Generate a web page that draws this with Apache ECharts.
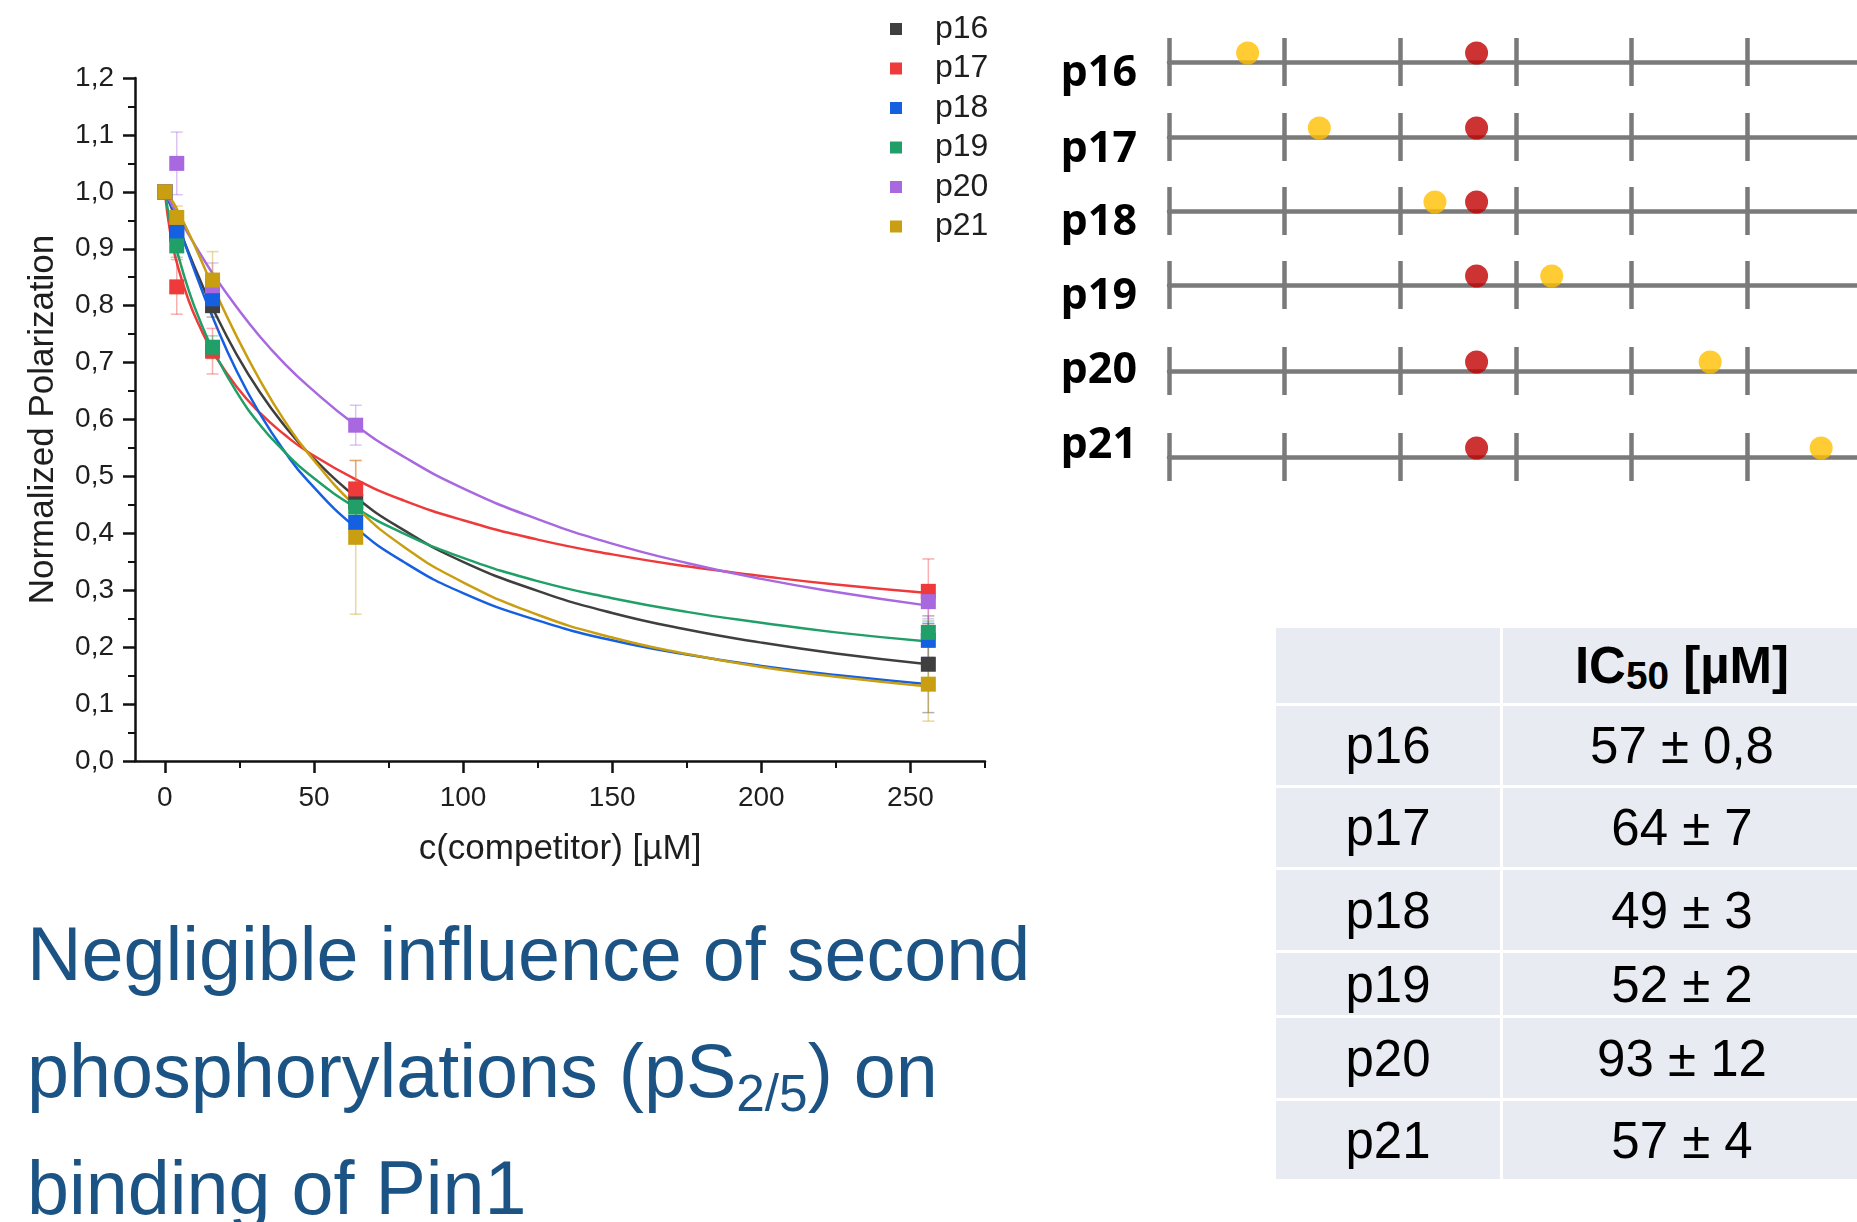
<!DOCTYPE html>
<html>
<head>
<meta charset="utf-8">
<script src="https://cdn.jsdelivr.net/npm/echarts@6/dist/echarts.min.js"></script>
<style>
  html, body { margin: 0; padding: 0; background: #fff; }
  #chart { position: absolute; left: 0; top: 0; width: 1857px; height: 1222px; }
  .caption {
    position: absolute; left: 27px; top: 896px;
    font-family: 'Liberation Sans', Arial, sans-serif;
    font-size: 75.5px; line-height: 117px; color: #1b5484; white-space: nowrap;
  }
  .caption .sub { font-size: 0.68em; vertical-align: -14px; line-height: 0; }
  .cell {
    position: absolute; background: #e8ebf1; color: #000;
    font-family: 'Liberation Sans', Arial, sans-serif; font-size: 51px;
    display: flex; align-items: center; justify-content: center; white-space: nowrap;
  }
  .cell.head { font-weight: bold; }
  .cell.head .sub { font-size: 0.76em; vertical-align: -6px; line-height: 0; }
</style>
</head>
<body>
<div id="chart"></div>
<div class="caption">Negligible influence of second<br>phosphorylations (pS<span class="sub">2/5</span>) on<br>binding of Pin1</div>
<div id="table"></div>
<script>
// competitor concentrations (µM) and normalized polarization per peptide
const concentrations = [0, 4, 16, 64, 256]
const peptides = ['p16', 'p17', 'p18', 'p19', 'p20', 'p21']

const p16Values = [1.0, 0.925, 0.80, 0.455, 0.17]
const p17Values = [1.0, 0.833, 0.72, 0.478, 0.298]
const p18Values = [1.0, 0.93, 0.812, 0.419, 0.212]
const p19Values = [1.0, 0.905, 0.727, 0.446, 0.226]
const p20Values = [1.0, 1.05, 0.835, 0.59, 0.28]
const p21Values = [1.0, 0.955, 0.845, 0.393, 0.135]

// error bars (±)
const p16Err = [0, 0.02, 0.02, 0.03, 0.085]
const p17Err = [0, 0.048, 0.04, 0.05, 0.057]
const p18Err = [0, 0.02, 0.02, 0.03, 0.03]
const p19Err = [0, 0.02, 0.02, 0.02, 0.02]
const p20Err = [0, 0.055, 0.04, 0.035, 0.03]
const p21Err = [0, 0.02, 0.05, 0.135, 0.065]

// fitted curves
const fitX = [0, 2, 4, 8, 12, 16, 24, 32, 40, 48, 64, 80, 100, 125, 150, 175, 200, 225, 256]
const p16Fit = [1.0, 0.975, 0.947, 0.893, 0.843, 0.796, 0.715, 0.647, 0.590, 0.542, 0.464, 0.406, 0.350, 0.299, 0.260, 0.231, 0.208, 0.189, 0.170]
const p17Fit = [1.0, 0.922, 0.876, 0.809, 0.760, 0.720, 0.658, 0.611, 0.574, 0.543, 0.495, 0.458, 0.423, 0.389, 0.363, 0.342, 0.325, 0.310, 0.295]
const p18Fit = [1.0, 0.977, 0.949, 0.890, 0.833, 0.780, 0.686, 0.609, 0.545, 0.492, 0.410, 0.350, 0.295, 0.247, 0.212, 0.187, 0.167, 0.151, 0.135]
const p19Fit = [1.0, 0.942, 0.898, 0.827, 0.771, 0.724, 0.649, 0.590, 0.544, 0.505, 0.445, 0.400, 0.357, 0.316, 0.286, 0.262, 0.243, 0.226, 0.210]
const p20Fit = [1.0, 0.981, 0.962, 0.925, 0.890, 0.857, 0.798, 0.745, 0.699, 0.659, 0.590, 0.535, 0.479, 0.425, 0.382, 0.348, 0.320, 0.297, 0.273]
const p21Fit = [1.0, 0.988, 0.970, 0.928, 0.882, 0.835, 0.747, 0.668, 0.599, 0.541, 0.447, 0.377, 0.314, 0.257, 0.217, 0.188, 0.165, 0.148, 0.131]

const xTickValues = [0, 50, 100, 150, 200, 250]
const xMinorTickValues = [25, 75, 125, 175, 225, 275]

// position of the phosphorylation sites on the sequence line
const firstSite = [2.66, 2.66, 2.66, 2.66, 2.66, 2.66]
const secondSite = [0.68, 1.30, 2.30, 3.31, 4.68, 5.64]

// IC50 table
const ic50Text = ['57 ± 0,8', '64 ± 7', '49 ± 3', '52 ± 2', '93 ± 12', '57 ± 4']

const values = [p16Values, p17Values, p18Values, p19Values, p20Values, p21Values]
const errors = [p16Err, p17Err, p18Err, p19Err, p20Err, p21Err]
const fits = [p16Fit, p17Fit, p18Fit, p19Fit, p20Fit, p21Fit]

const colors = ['#3f3f3f', '#ee3a3a', '#1560e0', '#20a068', '#a868e0', '#c99e10']
const font = "'Liberation Sans', Arial, sans-serif"

const hexToRgba = (hex, a) => {
  const n = parseInt(hex.slice(1), 16)
  return `rgba(${(n >> 16) & 255},${(n >> 8) & 255},${n & 255},${a})`
}

// layout of the sequence lines (y of each line, px)
const lineY = [62, 137, 211, 285, 371, 457]
const rowLabelY = [74, 150, 223, 297, 371, 446]

const chart = echarts.init(document.getElementById('chart'))

const grids = [{ left: 135, top: 78, width: 850, height: 683 }]
const xAxes = [
  {
    gridIndex: 0,
    type: 'value',
    min: -10,
    max: 275,
    position: 'bottom',
    name: 'c(competitor) [µM]',
    nameLocation: 'middle',
    nameGap: 71,
    nameTextStyle: { fontSize: 35, color: '#1e1e1e', fontFamily: font },
    axisLine: { show: true, onZero: false, lineStyle: { color: '#111', width: 2.5 } },
    axisTick: { show: true, customValues: xTickValues, length: 12, lineStyle: { color: '#111', width: 2.5 } },
    axisLabel: { customValues: xTickValues, fontSize: 28, margin: 23, color: '#1e1e1e', fontFamily: font },
    splitLine: { show: false }
  },
  {
    gridIndex: 0,
    type: 'value',
    min: -10,
    max: 275,
    position: 'bottom',
    axisLine: { show: false, onZero: false },
    axisTick: { show: true, customValues: xMinorTickValues, length: 7, lineStyle: { color: '#111', width: 2 } },
    axisLabel: { show: false },
    splitLine: { show: false }
  }
]
const yAxes = [
  {
    gridIndex: 0,
    type: 'value',
    min: 0,
    max: 1.2,
    interval: 0.1,
    name: 'Normalized Polarization',
    nameLocation: 'middle',
    nameGap: 74,
    nameTextStyle: { fontSize: 35, color: '#1e1e1e', fontFamily: font },
    axisLine: { show: true, onZero: false, lineStyle: { color: '#111', width: 2.5 } },
    axisTick: { show: true, length: 12, lineStyle: { color: '#111', width: 2.5 } },
    minorTick: { show: true, splitNumber: 2, length: 7, lineStyle: { color: '#111', width: 2 } },
    axisLabel: { fontSize: 28, margin: 21, color: '#1e1e1e', fontFamily: font, formatter: v => v.toFixed(1).replace('.', ',') },
    splitLine: { show: false }
  }
]

const series = []

peptides.forEach((name, i) => {
  series.push({
    name: name + ' fit',
    type: 'line',
    xAxisIndex: 0,
    yAxisIndex: 0,
    data: fitX.map((x, k) => [x, fits[i][k]]),
    smooth: true,
    symbol: 'none',
    silent: true,
    lineStyle: { color: colors[i], width: 2.5 },
    z: 2
  })
})

peptides.forEach((name, i) => {
  const c = hexToRgba(colors[i], 0.4)
  series.push({
    name: name + ' err',
    type: 'custom',
    xAxisIndex: 0,
    yAxisIndex: 0,
    silent: true,
    z: 3,
    data: concentrations
      .map((x, k) => [x, values[i][k] - errors[i][k], values[i][k] + errors[i][k]])
      .filter(d => d[2] - d[1] > 0),
    renderItem: (params, api) => {
      const top = api.coord([api.value(0), api.value(2)])
      const bot = api.coord([api.value(0), api.value(1)])
      const w = 6
      const style = { stroke: c, lineWidth: 1.5 }
      return {
        type: 'group',
        children: [
          { type: 'line', shape: { x1: top[0], y1: top[1], x2: bot[0], y2: bot[1] }, style },
          { type: 'line', shape: { x1: top[0] - w, y1: top[1], x2: top[0] + w, y2: top[1] }, style },
          { type: 'line', shape: { x1: bot[0] - w, y1: bot[1], x2: bot[0] + w, y2: bot[1] }, style }
        ]
      }
    }
  })
})

peptides.forEach((name, i) => {
  series.push({
    name,
    type: 'scatter',
    xAxisIndex: 0,
    yAxisIndex: 0,
    symbol: 'rect',
    symbolSize: 15,
    data: concentrations.map((x, k) => [x, values[i][k]]),
    itemStyle: { color: colors[i], opacity: 1 },
    z: 4
  })
})

// sequence lines with phosphorylation sites
const graphics = []
lineY.forEach((y, r) => {
  grids.push({ left: 1169, top: y - 24, right: 0, height: 48 })
  xAxes.push({
    gridIndex: r + 1,
    type: 'value',
    min: 0,
    max: 5.95,
    interval: 1,
    axisLine: { show: true, onZero: true, lineStyle: { color: '#7a7a7a', width: 4.5 } },
    axisTick: { show: false },
    axisLabel: { show: false },
    splitLine: { show: true, showMaxLine: false, lineStyle: { color: '#7a7a7a', width: 4.5 } }
  })
  yAxes.push({ gridIndex: r + 1, type: 'value', min: -1, max: 1, show: false })

  series.push({
    name: peptides[r] + ' sites',
    type: 'scatter',
    xAxisIndex: r + 2,
    yAxisIndex: r + 1,
    symbol: 'circle',
    symbolSize: 23,
    symbolOffset: [0, -9],
    silent: true,
    data: [
      { value: [firstSite[r], 0], itemStyle: { color: '#c00000' } },
      { value: [secondSite[r], 0], itemStyle: { color: '#ffc000' } }
    ],
    z: 5
  })

  graphics.push({
    type: 'text',
    x: 1137,
    y: rowLabelY[r],
    style: {
      text: peptides[r],
      font: "bold 43px 'Open Sans', 'Noto Sans', sans-serif",
      fill: '#000',
      align: 'right',
      verticalAlign: 'middle'
    }
  })
})

const option = {
  backgroundColor: '#fff',
  animation: false,
  textStyle: { fontFamily: font },
  grid: grids,
  xAxis: xAxes,
  yAxis: yAxes,
  legend: {
    left: 885,
    top: 8,
    orient: 'vertical',
    icon: 'rect',
    itemWidth: 12,
    itemHeight: 12,
    itemGap: 7.5,
    selectedMode: false,
    data: peptides.map((n, i) => ({ name: n, itemStyle: { color: colors[i] } })),
    textStyle: { fontSize: 32, color: '#1e1e1e', fontFamily: font, padding: [0, 0, 0, 28] }
  },
  graphic: graphics,
  series
}

chart.setOption(option)

// IC50 table
const table = document.getElementById('table')
const rowTops = [628, 706, 788, 870, 953, 1018, 1101]
const rowHeights = [75, 79, 79, 80, 62, 80, 78]
const col1 = { left: 1276, width: 224 }
const col2 = { left: 1503, width: 358 }

const addCell = (html, col, top, height, cls) => {
  const d = document.createElement('div')
  d.className = 'cell' + (cls ? ' ' + cls : '')
  d.style.left = col.left + 'px'
  d.style.width = col.width + 'px'
  d.style.top = top + 'px'
  d.style.height = height + 'px'
  d.innerHTML = '<span>' + html + '</span>'
  table.appendChild(d)
}

addCell('', col1, rowTops[0], rowHeights[0])
addCell('IC<span class="sub">50</span> [µM]', col2, rowTops[0], rowHeights[0], 'head')
peptides.forEach((p, i) => {
  addCell(p, col1, rowTops[i + 1], rowHeights[i + 1])
  addCell(ic50Text[i], col2, rowTops[i + 1], rowHeights[i + 1])
})
</script>
</body>
</html>
